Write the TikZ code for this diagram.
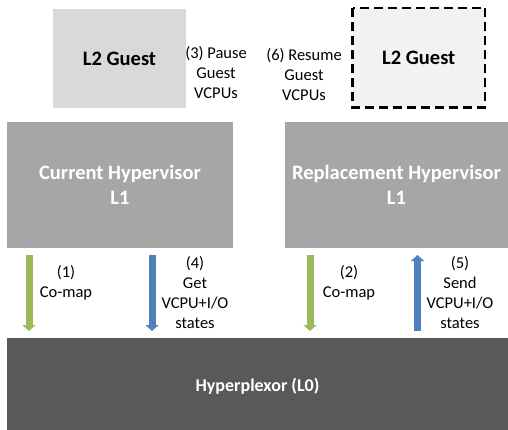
\documentclass[tikz,border=0pt]{standalone}
\usepackage{fontspec}
\setmainfont{Carlito}
\usetikzlibrary{arrows.meta}
\definecolor{guestgray}{HTML}{D9D9D9}
\definecolor{guestlight}{HTML}{F2F2F2}
\definecolor{hvgray}{HTML}{A6A6A6}
\definecolor{hpgray}{HTML}{595959}
\definecolor{mapgreen}{HTML}{9BBB59}
\definecolor{stateblue}{HTML}{4F81BD}
\tikzset{
  box/.style={draw=none, inner sep=0pt, align=center, font=\fontsize{20.5}{25}\selectfont\bfseries},
  label/.style={inner sep=0pt, align=center, font=\fontsize{16.5}{20}\selectfont},
  fat/.style={line width=7pt, -{Triangle[width=13pt,length=6pt]}},
}
\begin{document}
\begin{tikzpicture}[x=1pt,y=-1pt]
\useasboundingbox (0,0) rectangle (508,430);
% guests
\fill[guestgray] (53,9) rectangle (186,108);
\node[box, font=\fontsize{20.5}{25}\selectfont\bfseries] (g1) at (119.5,58.5) {L2 Guest};
\filldraw[fill=guestlight, draw=black, line width=2.2pt, dash pattern=on 9pt off 5pt] (352.5,8) rectangle (485,107.5);
\node[box] (g2) at (418.75,58) {L2 Guest};
% hypervisors
\fill[hvgray] (7,122) rectangle (233,248);
\node[box, text=white] (cur) at (120,185) {Current Hypervisor\\L1};
\fill[hvgray] (285,122) rectangle (508,248);
\node[box, text=white] (rep) at (396.5,185) {Replacement Hypervisor\\L1};
% hyperplexor
\fill[hpgray] (7,338) rectangle (508,430);
\node[box, text=white, font=\fontsize{18}{22}\selectfont\bfseries] (hp) at (257.5,386) {Hyperplexor (L0)};
% step labels
\node[label] (s3) at (216,73) {(3) Pause\\Guest\\VCPUs};
\node[label] (s6) at (304,75) {(6) Resume\\Guest\\VCPUs};
\node[label] (s1) at (66,283) {(1)\\Co-map};
\node[label] (s4) at (195,293) {(4)\\Get\\VCPU+I/O\\states};
\node[label] (s2) at (349,283) {(2)\\Co-map};
\node[label] (s5) at (460,293) {(5)\\Send\\VCPU+I/O\\states};
% arrows between layers
\coordinate (a1s) at (29,255); \coordinate (a1e) at (29,331);
\coordinate (a4s) at (152,255); \coordinate (a4e) at (152,331);
\coordinate (a2s) at (310,255); \coordinate (a2e) at (310,331);
\coordinate (a5s) at (417.5,331); \coordinate (a5e) at (417.5,255);
\draw[fat, mapgreen] (a1s) -- (a1e);
\draw[fat, stateblue] (a4s) -- (a4e);
\draw[fat, mapgreen] (a2s) -- (a2e);
\draw[fat, stateblue] (a5s) -- (a5e);
\end{tikzpicture}
\end{document}
